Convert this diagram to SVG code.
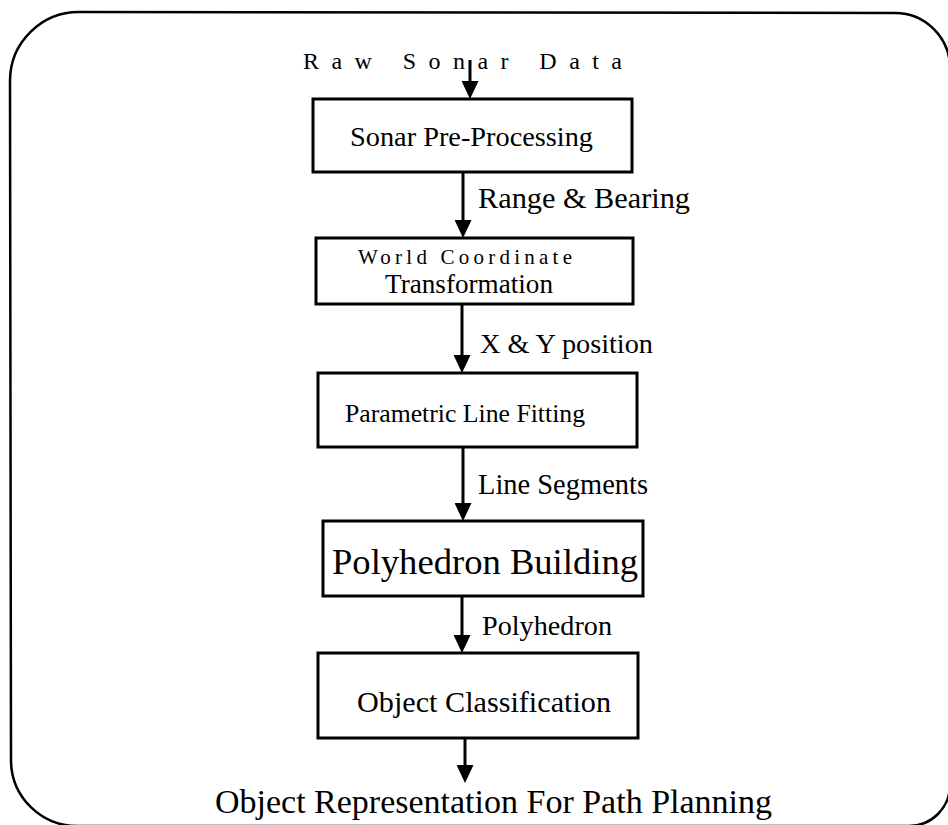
<svg xmlns="http://www.w3.org/2000/svg" width="948" height="825" viewBox="0 0 948 825">
<style>
  text { font-family: "Liberation Serif", "Times New Roman", serif; fill: #000; }
  .box { fill: #fff; stroke: #000; stroke-width: 3; }
  .conn line { stroke: #000; stroke-width: 3; }
  .frame { fill: none; stroke: #000; stroke-width: 2.5; }
</style>
<defs>
  <marker id="ah" markerUnits="userSpaceOnUse" markerWidth="18" markerHeight="17" refX="12" refY="8.5" orient="auto" viewBox="0 0 18 17">
    <path d="M0,0 L18,8.5 L0,17 Z" fill="#000"/>
  </marker>
</defs>
<rect width="948" height="825" fill="#fff"/>
<path class="frame" d="M80,12 L895,13 A55,55 0 0 1 950,68 L950,785 A41,41 0 0 1 909,826 L77,826 A66,66 0 0 1 11,760 L10,81 A69,69 0 0 1 80,12 Z"/>

<g id="input">
  <text x="303" y="69" font-size="24" textLength="319" lengthAdjust="spacing">Raw Sonar Data</text>
</g>

<g id="node1">
  <rect class="box" x="313" y="99" width="319" height="73"/>
  <text x="350" y="146" font-size="27" textLength="243" lengthAdjust="spacingAndGlyphs">Sonar Pre-Processing</text>
</g>

<g id="node2">
  <rect class="box" x="316" y="238" width="317" height="66"/>
  <text x="358" y="264" font-size="21" textLength="214" lengthAdjust="spacing">World Coordinate</text>
  <text x="385" y="293" font-size="27" textLength="168" lengthAdjust="spacingAndGlyphs">Transformation</text>
</g>

<g id="node3">
  <rect class="box" x="318" y="373" width="319" height="74"/>
  <text x="345" y="422" font-size="26" textLength="240" lengthAdjust="spacingAndGlyphs">Parametric Line Fitting</text>
</g>

<g id="node4">
  <rect class="box" x="323" y="521" width="320" height="75"/>
  <text x="332" y="574" font-size="36" textLength="306" lengthAdjust="spacingAndGlyphs">Polyhedron Building</text>
</g>

<g id="node5">
  <rect class="box" x="318" y="653" width="320" height="85"/>
  <text x="357" y="712" font-size="30" textLength="254" lengthAdjust="spacingAndGlyphs">Object Classification</text>
</g>

<g id="output">
  <text x="215" y="813" font-size="34" textLength="557" lengthAdjust="spacingAndGlyphs">Object Representation For Path Planning</text>
</g>

<g id="connectors" class="conn">
  <line x1="470" y1="60" x2="470" y2="93" marker-end="url(#ah)"/>
  <line x1="463" y1="172" x2="463" y2="232" marker-end="url(#ah)"/>
  <line x1="462" y1="304" x2="462" y2="367" marker-end="url(#ah)"/>
  <line x1="463" y1="447" x2="463" y2="515" marker-end="url(#ah)"/>
  <line x1="462" y1="596" x2="462" y2="647" marker-end="url(#ah)"/>
  <line x1="465" y1="738" x2="465" y2="777" marker-end="url(#ah)"/>
</g>

<g id="labels">
  <text x="478" y="208" font-size="29" textLength="212" lengthAdjust="spacingAndGlyphs">Range &amp; Bearing</text>
  <text x="480" y="353" font-size="28" textLength="173" lengthAdjust="spacingAndGlyphs">X &amp; Y position</text>
  <text x="478" y="494" font-size="29" textLength="170" lengthAdjust="spacingAndGlyphs">Line Segments</text>
  <text x="482" y="635" font-size="28" textLength="130" lengthAdjust="spacingAndGlyphs">Polyhedron</text>
</g>
</svg>
